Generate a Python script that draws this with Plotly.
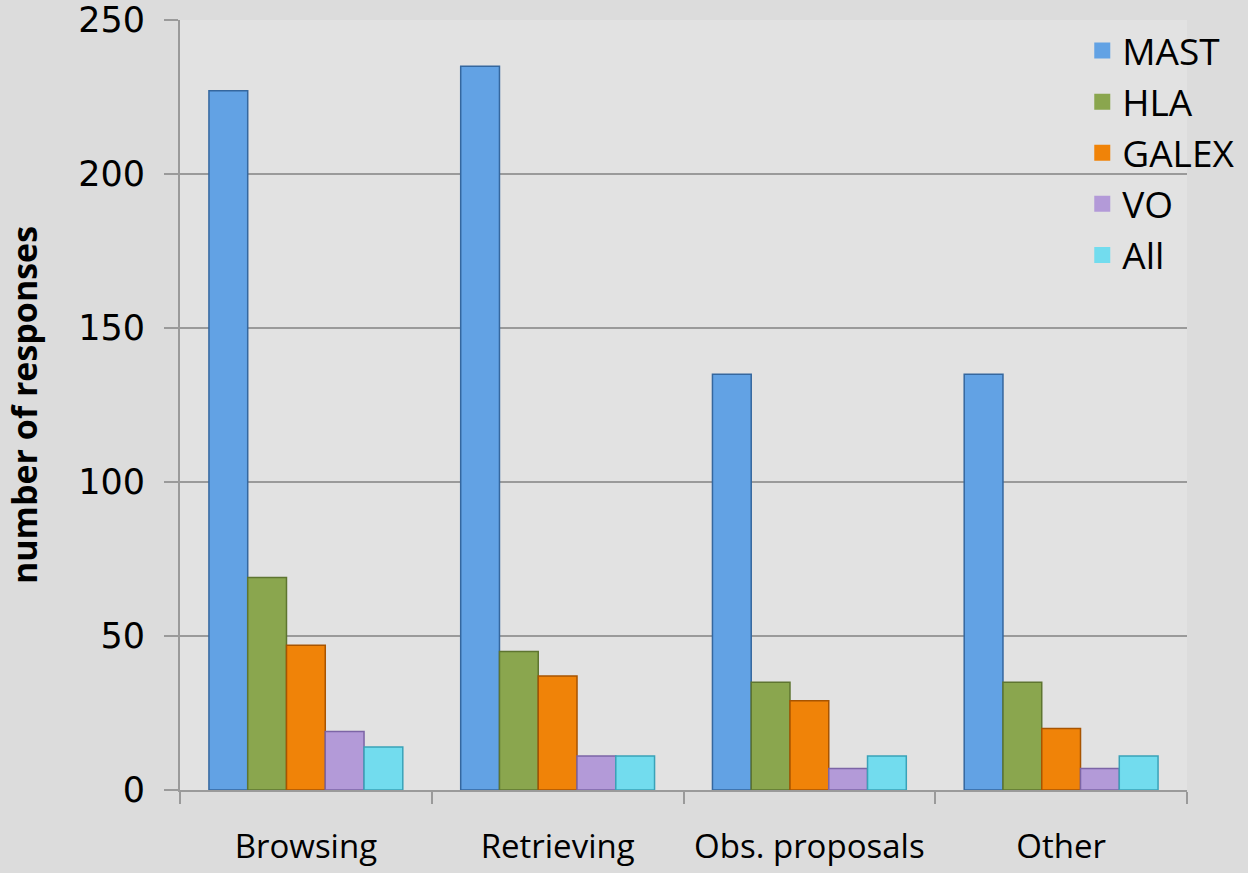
import plotly.graph_objects as go

categories = ["Browsing", "Retrieving", "Obs. proposals", "Other"]
series_names = ["MAST", "HLA", "GALEX", "VO", "All"]
mast = [227, 235, 135, 135]
hla = [69, 45, 35, 35]
galex = [47, 37, 29, 20]
vo = [19, 11, 7, 7]
all_ = [14, 11, 11, 11]
y_ticks = [0, 50, 100, 150, 200, 250]

values = [mast, hla, galex, vo, all_]
colors = ["#62a2e4", "#8aa64e", "#f08308", "#b39ad8", "#72dcee"]
edges = ["#35679e", "#5e7530", "#a85400", "#7c65a6", "#3aa2b8"]

fig = go.Figure()
for name, vals, c, e in zip(series_names, values, colors, edges):
    fig.add_trace(go.Bar(
        x=categories, y=vals, name=name, legendgroup=name, showlegend=False,
        marker=dict(color=c, line=dict(color=e, width=1.5)),
    ))
for name, c in zip(series_names, colors):
    fig.add_trace(go.Scatter(
        x=[None], y=[None], mode="markers", name=name, legendgroup=name,
        marker=dict(symbol="square", size=16, color=c),
    ))

fig.update_layout(
    width=1248, height=873,
    barmode="group", bargap=0.23, bargroupgap=0,
    paper_bgcolor="#dcdcdc", plot_bgcolor="#e2e2e2",
    margin=dict(l=180, r=61, t=20, b=83, autoexpand=False),
    font=dict(family="DejaVu Sans", color="#000000"),
    legend=dict(
        x=0.896, xanchor="left", y=1.0, yanchor="top",
        bgcolor="rgba(0,0,0,0)", font=dict(size=37, family="Open Sans"),
        itemsizing="trace", tracegroupgap=0,
    ),
    showlegend=True,
)
fig.update_xaxes(
    showgrid=False, showline=True, linecolor="#9a9a9a", linewidth=2,
    ticks="outside", tickson="boundaries", ticklen=12, tickwidth=2, tickcolor="#9a9a9a",
    tickfont=dict(size=33, family="Open Sans"), ticklabelstandoff=26, tickangle=0,
    automargin=False,
)
fig.update_yaxes(
    range=[0, 250], tickvals=y_ticks, showgrid=True, gridcolor="#9a9a9a", gridwidth=2,
    showline=True, linecolor="#9a9a9a", linewidth=2,
    ticks="outside", ticklen=14, tickwidth=2, tickcolor="#9a9a9a",
    tickfont=dict(size=35, family="DejaVu Sans"), ticklabelstandoff=12,
    title=dict(text="<b>number of responses</b>",
               font=dict(size=34, family="Open Sans"), standoff=30),
    zeroline=False, automargin=False,
)

fig.write_html("out.html", config={"displayModeBar": False},
               post_script="document.body.style.margin='0';document.body.style.overflow='hidden';")
